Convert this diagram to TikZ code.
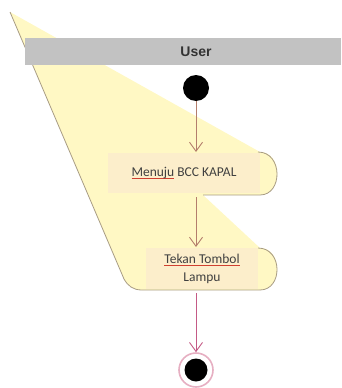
\documentclass[tikz,border=0pt]{standalone}
\usepackage{fontspec}
\setmainfont{Carlito}
\newfontfamily\userfont{Liberation Sans}
\usetikzlibrary{arrows.meta}
\definecolor{fanyellow}{HTML}{FFF8C4}
\definecolor{boxpeach}{HTML}{FCEECB}
\definecolor{edgegray}{HTML}{A89C84}
\definecolor{bargray}{HTML}{C2C2C2}
\definecolor{arrowbrown}{HTML}{B47E6C}
\definecolor{arrowpink}{HTML}{C45A86}
\definecolor{ringpink}{HTML}{E6AFC2}
\definecolor{spellred}{HTML}{D04030}
\newcommand\spellul[1]{\setbox0\hbox{#1}\rlap{\color{spellred}\rule[-2.2pt]{\wd0}{0.7pt}}#1}
\tikzset{
  actbox/.style={rectangle, fill=boxpeach, inner sep=0pt, font=\fontsize{13.5}{19}\selectfont, text=black!75, align=center},
  flow/.style={draw=arrowbrown, line width=0.9pt, -{Straight Barb[length=9pt,width=13pt]}},
  flowend/.style={draw=arrowpink, line width=0.9pt, -{Straight Barb[length=9pt,width=13pt]}},
}
\begin{document}
\begin{tikzpicture}[x=1pt,y=-1pt]
\useasboundingbox (0,0) rectangle (341,388);
% fan-shaped yellow region
\fill[fanyellow] (10,12) -- (260,152) .. controls (283,152) and (283,195) .. (260,195)
  -- (203,195) -- (260,248) .. controls (283,248) and (283,290) .. (260,290)
  -- (142,290) .. controls (133,290) and (128,286) .. (124,279) -- cycle;
% outlines
\draw[edgegray, line width=0.8pt] (10,12) -- (124,279) .. controls (128,286) and (133,290) .. (142,290) -- (260,290);
\draw[edgegray, line width=0.8pt] (258,152) .. controls (283,152) and (283,195) .. (260,195) -- (203,195);
\draw[edgegray, line width=0.8pt] (258,248) .. controls (283,248) and (283,290) .. (260,290);
% swimlane header
\node[rectangle, fill=bargray, minimum width=316pt, minimum height=27pt, inner sep=0pt, anchor=north west] (lane) at (25,38) {};
\node[font=\userfont\bfseries\fontsize{14}{16}\selectfont, text=black!80] (user) at (196,51.5) {User};
% nodes
\node[circle, fill=black, minimum size=26pt, inner sep=0pt] (init) at (196,88) {};
\node[actbox, minimum width=152pt, minimum height=40pt] (act1) at (184,173) {\spellul{Menuju} BCC KAPAL};
\node[actbox, minimum width=112pt, minimum height=41pt] (act2) at (202,268.5) {\spellul{Tekan Tombol}\\[-1pt]Lampu};
\node[circle, draw=ringpink, line width=1.6pt, minimum size=34pt, inner sep=0pt] (final) at (196,370) {};
\node[circle, fill=black, minimum size=23pt, inner sep=0pt] (finaldot) at (final) {};
% connectors
\coordinate (a1top) at (196,152);
\coordinate (a1bot) at (196,197);
\coordinate (a2top) at (196,247);
\coordinate (a2bot) at (196,293);
\draw[flow] (init) -- (a1top);
\draw[flow] (a1bot) -- (a2top);
\draw[flowend] (a2bot) -- (final);
\end{tikzpicture}
\end{document}
